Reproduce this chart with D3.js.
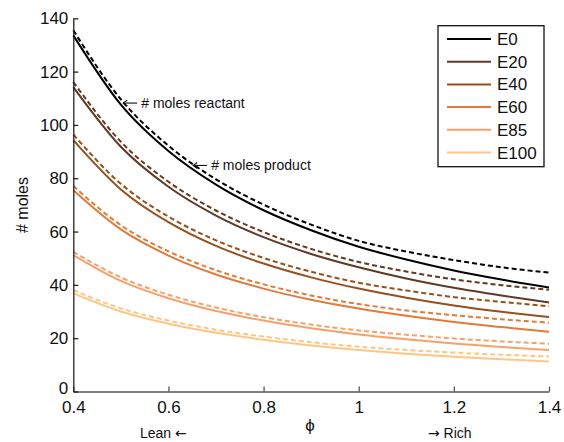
<!DOCTYPE html>
<html>
<head>
<meta charset="utf-8">
<script src="https://cdn.jsdelivr.net/npm/d3@7"></script>
<style>
  body { margin: 0; background: #fff; }
  svg { font-family: "Liberation Sans", Arial, sans-serif; }
</style>
</head>
<body>
<svg id="chart" width="564" height="442"></svg>
<script>
const phi = [0.4, 0.5, 0.6, 0.7, 0.8, 0.9, 1.0, 1.1, 1.2, 1.3, 1.4];
const fuels = ["E0", "E20", "E40", "E60", "E85", "E100"];
const colors = ["#000000", "#603a24", "#95501f", "#e07b3b", "#f8a06b", "#fec683"];

// solid lines
const e0Solid = [133.6, 107.6, 90.2, 77.6, 68.0, 60.5, 54.3, 49.5, 45.4, 42.0, 39.0];
const e20Solid = [114.2, 91.8, 76.8, 66.0, 57.9, 51.6, 46.6, 42.4, 38.9, 36.0, 33.4];
const e40Solid = [94.3, 75.8, 63.5, 54.6, 48.0, 42.8, 38.6, 35.2, 32.3, 29.9, 27.9];
const e60Solid = [75.5, 60.8, 51.0, 43.9, 38.6, 34.4, 31.1, 28.4, 26.1, 24.2, 22.4];
const e85Solid = [51.2, 41.5, 35.0, 30.2, 26.6, 23.7, 21.4, 19.6, 18.0, 16.7, 15.6];
const e100Solid = [36.8, 30.0, 25.4, 22.0, 19.4, 17.3, 15.6, 14.2, 13.0, 12.1, 11.3];

// dashed lines
const e0Dashed = [135.5, 109.6, 92.2, 79.6, 70.1, 62.6, 56.5, 52.5, 49.3, 46.6, 44.6];
const e20Dashed = [116.1, 93.7, 78.7, 67.9, 59.8, 53.5, 48.6, 45.0, 42.1, 39.9, 38.2];
const e40Dashed = [96.4, 77.9, 65.6, 56.7, 50.1, 44.9, 40.8, 37.9, 35.4, 33.6, 32.0];
const e60Dashed = [77.1, 62.4, 52.6, 45.5, 40.2, 36.0, 32.8, 30.4, 28.6, 27.1, 25.8];
const e85Dashed = [52.4, 42.8, 36.3, 31.5, 27.9, 25.1, 22.9, 21.3, 19.9, 18.8, 17.9];
const e100Dashed = [38.0, 31.2, 26.6, 23.2, 20.6, 18.5, 16.8, 15.6, 14.6, 13.8, 13.2];

const xTicks = [0.4, 0.6, 0.8, 1, 1.2, 1.4];
const yTicks = [0, 20, 40, 60, 80, 100, 120, 140];

const solids = [e0Solid, e20Solid, e40Solid, e60Solid, e85Solid, e100Solid];
const dashes = [e0Dashed, e20Dashed, e40Dashed, e60Dashed, e85Dashed, e100Dashed];

const svg = d3.select("#chart");

const x = d3.scaleLinear().domain([0.4, 1.4]).range([73.3, 549]);
const y = d3.scaleLinear().domain([0, 140]).range([391.5, 18.3]);

const line = d3.line()
  .x((d, i) => x(phi[i]))
  .y((d) => y(d))
  .curve(d3.curveMonotoneX);

// dashed first, solid on top
dashes.forEach((vals, i) => {
  svg.append("path")
    .attr("d", line(vals))
    .attr("fill", "none")
    .attr("stroke", colors[i])
    .attr("stroke-width", 2)
    .attr("stroke-dasharray", "5,3");
});
solids.forEach((vals, i) => {
  svg.append("path")
    .attr("d", line(vals))
    .attr("fill", "none")
    .attr("stroke", colors[i])
    .attr("stroke-width", 2);
});

// axes, matlab style: ticks inside
const xAxis = svg.append("g")
  .attr("transform", `translate(0,${y(0)})`)
  .call(d3.axisBottom(x).tickValues(xTicks).tickSize(-5).tickSizeOuter(0).tickPadding(9).tickFormat((d) => d));
xAxis.selectAll("path, line").attr("stroke", "#555").attr("stroke-width", 1.3);
xAxis.selectAll("text").attr("font-size", 17).attr("fill", "#111").attr("font-family", null);

const yAxis = svg.append("g")
  .attr("transform", `translate(${x(0.4)},0)`)
  .call(d3.axisLeft(y).tickValues(yTicks).tickSize(-5).tickSizeOuter(0).tickPadding(5));
yAxis.selectAll("path, line").attr("stroke", "#222").attr("stroke-width", 1.3);
yAxis.selectAll("text").attr("font-size", 17).attr("fill", "#111").attr("font-family", null);
yAxis.selectAll(".tick").filter((d) => d === 0).select("text").attr("dy", "0.1em");

// axis labels
svg.append("text")
  .attr("transform", "translate(28,205) rotate(-90)")
  .attr("text-anchor", "middle")
  .attr("font-size", 16)
  .attr("fill", "#111")
  .text("# moles");

svg.append("text")
  .attr("x", 310).attr("y", 431)
  .attr("text-anchor", "middle")
  .attr("font-size", 17)
  .attr("fill", "#111")
  .text("ϕ");

const lean = svg.append("text")
  .attr("x", 140).attr("y", 438)
  .attr("font-size", 14)
  .attr("fill", "#111");
lean.append("tspan").text("Lean ");
lean.append("tspan").attr("font-family", "DejaVu Sans").text("←");

const rich = svg.append("text")
  .attr("x", 428).attr("y", 438)
  .attr("font-size", 14)
  .attr("fill", "#111");
rich.append("tspan").attr("font-family", "DejaVu Sans").text("→");
rich.append("tspan").text(" Rich");

// annotations
function note(px, py, label) {
  const tx = x(px), ty = y(py);
  const g = svg.append("g").attr("stroke", "#111").attr("stroke-width", 1.1).attr("fill", "none");
  g.append("line").attr("x1", tx).attr("y1", ty).attr("x2", tx + 14).attr("y2", ty);
  g.append("path").attr("d", `M${tx + 4},${ty - 3}L${tx},${ty}L${tx + 4},${ty + 3}`);
  svg.append("text")
    .attr("x", tx + 18).attr("y", ty + 5)
    .attr("font-size", 14)
    .attr("fill", "#111")
    .text(label);
}
note(0.505, 108.2, "# moles reactant");
note(0.652, 84.8, "# moles product");

// legend
const legend = svg.append("g");
legend.append("rect")
  .attr("x", 438).attr("y", 25.7)
  .attr("width", 106).attr("height", 141)
  .attr("fill", "#fff")
  .attr("stroke", "#111")
  .attr("stroke-width", 1.3);

fuels.forEach((f, i) => {
  const ly = 39 + i * 22.7;
  legend.append("line")
    .attr("x1", 447).attr("x2", 491)
    .attr("y1", ly).attr("y2", ly)
    .attr("stroke", colors[i])
    .attr("stroke-width", 2);
  legend.append("text")
    .attr("x", 497).attr("y", ly + 6)
    .attr("font-size", 17)
    .attr("fill", "#111")
    .text(f);
});
</script>
</body>
</html>
